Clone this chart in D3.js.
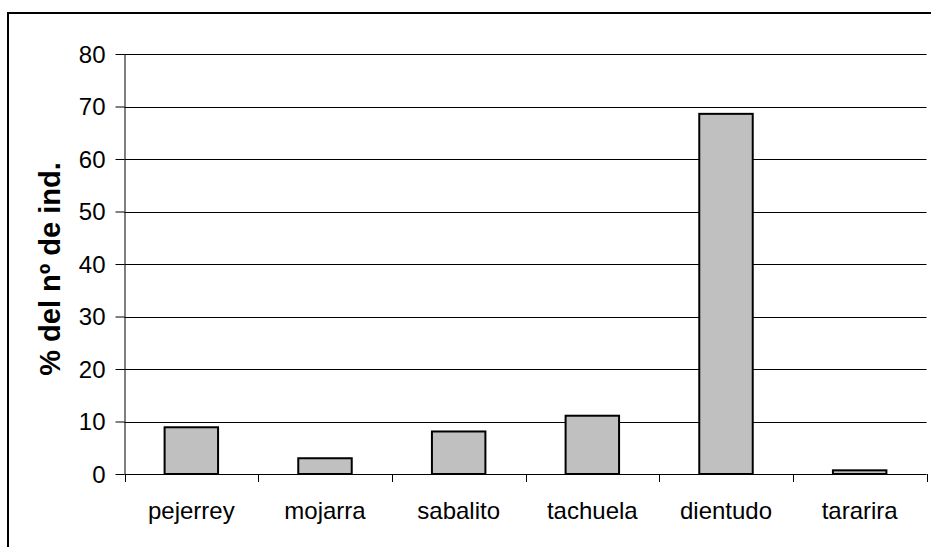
<!DOCTYPE html>
<html>
<head>
<meta charset="utf-8">
<script src="https://cdn.jsdelivr.net/npm/d3@7"></script>
<style>
  html, body { margin: 0; padding: 0; background: #fff; }
  svg { display: block; }
  text { font-family: Arial, "Liberation Sans", sans-serif; fill: #000; }
</style>
</head>
<body>
<svg id="chart" width="931" height="547"></svg>
<script>
// Species and share of number of individuals (%)
const categories = ["pejerrey", "mojarra", "sabalito", "tachuela", "dientudo", "tararira"];
const values = [8.9, 3.0, 8.1, 11.1, 68.6, 0.7];
const yTicks = [0, 10, 20, 30, 40, 50, 60, 70, 80];
const yTitle = "% del nº de ind.";

const svg = d3.select("#chart");
const plot = { left: 124.5, right: 926.5, top: 54, bottom: 474 };
const labelFont = "24px";

// Chart frame (left and top edges)
svg.append("path")
  .attr("d", "M8,547 V13 H931")
  .attr("fill", "none")
  .attr("stroke", "#000")
  .attr("stroke-width", 2);

const x = d3.scaleBand()
  .domain(categories)
  .range([plot.left, plot.right])
  .paddingInner(0.6)
  .paddingOuter(0.3);

const y = d3.scaleLinear()
  .domain([0, 80])
  .range([plot.bottom, plot.top]);

// Horizontal gridlines
svg.append("g")
  .selectAll("line")
  .data(yTicks.filter(d => d > 0))
  .join("line")
  .attr("x1", plot.left)
  .attr("x2", plot.right)
  .attr("y1", d => Math.round(y(d)) + 0.5)
  .attr("y2", d => Math.round(y(d)) + 0.5)
  .attr("stroke", "#000")
  .attr("stroke-width", 1);

// Bars
svg.append("g")
  .selectAll("rect")
  .data(categories)
  .join("rect")
  .attr("x", d => x(d))
  .attr("width", x.bandwidth())
  .attr("y", (d, i) => y(values[i]))
  .attr("height", (d, i) => y(0) - y(values[i]))
  .attr("fill", "#c0c0c0")
  .attr("stroke", "#000")
  .attr("stroke-width", 2);

// Y axis
const yAxis = d3.axisLeft(y)
  .tickValues(yTicks)
  .tickSize(9)
  .tickPadding(10)
  .tickFormat(d3.format("d"));

const gy = svg.append("g")
  .attr("transform", `translate(${plot.left},0)`)
  .call(yAxis)
  .attr("font-size", null)
  .attr("font-family", null);
gy.select(".domain").attr("d", `M0.5,${plot.top}V${plot.bottom}`).attr("stroke", "#000");
gy.selectAll(".tick line").attr("stroke", "#000");
gy.selectAll(".tick text")
  .attr("dy", "0.35em")
  .style("font-size", labelFont);

// X axis: ticks at category boundaries
const bounds = d3.range(categories.length + 1)
  .map(i => plot.left + i * (plot.right - plot.left) / categories.length);
const gx = svg.append("g");
gx.append("line")
  .attr("x1", plot.left).attr("x2", plot.right)
  .attr("y1", plot.bottom + 0.5).attr("y2", plot.bottom + 0.5)
  .attr("stroke", "#000");
gx.selectAll("line.tk")
  .data(bounds)
  .join("line")
  .attr("class", "tk")
  .attr("x1", d => Math.round(d) + 0.5)
  .attr("x2", d => Math.round(d) + 0.5)
  .attr("y1", plot.bottom)
  .attr("y2", plot.bottom + 8)
  .attr("stroke", "#000");
gx.selectAll("text")
  .data(categories)
  .join("text")
  .attr("x", d => x(d) + x.bandwidth() / 2)
  .attr("y", 519)
  .attr("text-anchor", "middle")
  .style("font-size", labelFont)
  .text(d => d);

// Y axis title
svg.append("text")
  .attr("transform", `translate(60,${(plot.top + plot.bottom) / 2 + 5}) rotate(-90)`)
  .attr("text-anchor", "middle")
  .style("font-size", "29px")
  .style("font-weight", "bold")
  .text(yTitle);
</script>
</body>
</html>
